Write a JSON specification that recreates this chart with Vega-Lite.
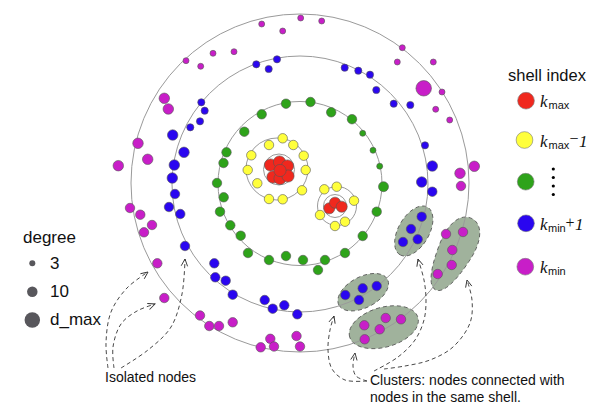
{
  "$schema": "https://vega.github.io/schema/vega-lite/v6.json",
  "width": 592,
  "height": 404,
  "padding": 0,
  "autosize": {"type": "none"},
  "background": "white",
  "config": {"view": {"stroke": null}},
  "datasets": {
    "clusters": [
      {"x": 413.8, "y": 231, "a": 27.5, "ang": 300, "form": "e"},
      {"x": 363.2, "y": 292.2, "a": 27.5, "ang": 332, "form": "e"},
      {"x": 453.7, "y": 254.2, "a": 40, "ang": 297, "form": "egg"},
      {"x": 383.8, "y": 327.2, "a": 35.5, "ang": 344, "form": "e"}
    ],
    "rings": [
      {"x": 300, "y": 183, "r": 169},
      {"x": 300, "y": 184, "r": 128},
      {"x": 300, "y": 183.5, "r": 82},
      {"x": 277, "y": 169, "r": 31},
      {"x": 279, "y": 169.5, "r": 15.5},
      {"x": 337, "y": 206, "r": 19.5},
      {"x": 335, "y": 206, "r": 11.5}
    ],
    "arrows": [
      {"id": "A", "o": 1, "x": 108, "y": 368}, {"id": "A", "o": 2, "x": 106, "y": 343}, {"id": "A", "o": 3, "x": 111, "y": 312}, {"id": "A", "o": 4, "x": 127, "y": 288}, {"id": "A", "o": 5, "x": 148, "y": 272},
      {"id": "B", "o": 1, "x": 114, "y": 368}, {"id": "B", "o": 2, "x": 113, "y": 347}, {"id": "B", "o": 3, "x": 121, "y": 324}, {"id": "B", "o": 4, "x": 137, "y": 311}, {"id": "B", "o": 5, "x": 155, "y": 304},
      {"id": "C", "o": 1, "x": 121, "y": 368}, {"id": "C", "o": 2, "x": 148, "y": 350}, {"id": "C", "o": 3, "x": 171, "y": 327}, {"id": "C", "o": 4, "x": 182, "y": 294}, {"id": "C", "o": 5, "x": 185, "y": 259},
      {"id": "D", "o": 1, "x": 367, "y": 381}, {"id": "D", "o": 2, "x": 345, "y": 380}, {"id": "D", "o": 3, "x": 332, "y": 369}, {"id": "D", "o": 4, "x": 328, "y": 350}, {"id": "D", "o": 5, "x": 330, "y": 330}, {"id": "D", "o": 6, "x": 334, "y": 316},
      {"id": "E", "o": 1, "x": 367, "y": 381}, {"id": "E", "o": 2, "x": 356, "y": 376}, {"id": "E", "o": 3, "x": 353, "y": 366}, {"id": "E", "o": 4, "x": 355, "y": 353},
      {"id": "F", "o": 1, "x": 374, "y": 371}, {"id": "F", "o": 2, "x": 398, "y": 357}, {"id": "F", "o": 3, "x": 415, "y": 340}, {"id": "F", "o": 4, "x": 424, "y": 320}, {"id": "F", "o": 5, "x": 426, "y": 300}, {"id": "F", "o": 6, "x": 424, "y": 280}, {"id": "F", "o": 7, "x": 418, "y": 259},
      {"id": "G", "o": 1, "x": 384, "y": 369}, {"id": "G", "o": 2, "x": 405, "y": 366}, {"id": "G", "o": 3, "x": 430, "y": 360}, {"id": "G", "o": 4, "x": 453, "y": 347}, {"id": "G", "o": 5, "x": 470, "y": 323}, {"id": "G", "o": 6, "x": 472, "y": 300}, {"id": "G", "o": 7, "x": 467, "y": 280}
    ],
    "heads": [
      {"x": 148, "y": 272, "ang": 53},
      {"x": 155, "y": 304, "ang": 69},
      {"x": 185, "y": 259, "ang": 5},
      {"x": 334, "y": 316, "ang": 16},
      {"x": 355, "y": 353, "ang": 9},
      {"x": 418, "y": 259, "ang": 344},
      {"x": 467, "y": 280, "ang": 346}
    ],
    "nodes": [
      {"x": 261.7, "y": 24, "s": "kmin", "d": 3}, {"x": 282.7, "y": 31, "s": "kmin", "d": 3}, {"x": 186, "y": 60.7, "s": "kmin", "d": 3}, {"x": 213, "y": 53.3, "s": "kmin", "d": 3}, {"x": 234, "y": 51.7, "s": "kmin", "d": 3}, {"x": 200.7, "y": 66.3, "s": "kmin", "d": 3}, {"x": 300.7, "y": 18, "s": "kmin", "d": 3}, {"x": 321.7, "y": 21, "s": "kmin", "d": 3}, {"x": 402.3, "y": 47.7, "s": "kmin", "d": 3}, {"x": 397.3, "y": 62, "s": "kmin", "d": 3}, {"x": 433.3, "y": 62, "s": "kmin", "d": 3}, {"x": 442, "y": 92, "s": "kmin", "d": 3}, {"x": 435.7, "y": 109.3, "s": "kmin", "d": 3}, {"x": 449.7, "y": 120, "s": "kmin", "d": 3},
      {"x": 423.7, "y": 88.3, "s": "kmin", "d": 30},
      {"x": 164.3, "y": 98.3, "s": "kmin", "d": 10}, {"x": 168.3, "y": 109, "s": "kmin", "d": 10}, {"x": 138, "y": 143.3, "s": "kmin", "d": 10}, {"x": 147.7, "y": 159.3, "s": "kmin", "d": 10}, {"x": 118.3, "y": 165.7, "s": "kmin", "d": 10}, {"x": 460, "y": 173.3, "s": "kmin", "d": 10}, {"x": 474.3, "y": 166.3, "s": "kmin", "d": 10},
      {"x": 461, "y": 186, "s": "kmin", "d": 8}, {"x": 130, "y": 208, "s": "kmin", "d": 8}, {"x": 140.3, "y": 214.7, "s": "kmin", "d": 8}, {"x": 152, "y": 225, "s": "kmin", "d": 8}, {"x": 144, "y": 232.3, "s": "kmin", "d": 8}, {"x": 157.3, "y": 263.3, "s": "kmin", "d": 8}, {"x": 164.3, "y": 298, "s": "kmin", "d": 8}, {"x": 200, "y": 315.5, "s": "kmin", "d": 8}, {"x": 209.3, "y": 326, "s": "kmin", "d": 8}, {"x": 219, "y": 326, "s": "kmin", "d": 8}, {"x": 232.7, "y": 322.3, "s": "kmin", "d": 8}, {"x": 260.7, "y": 347.3, "s": "kmin", "d": 8}, {"x": 270.3, "y": 338.8, "s": "kmin", "d": 8}, {"x": 274, "y": 346.5, "s": "kmin", "d": 8}, {"x": 296.5, "y": 336, "s": "kmin", "d": 8}, {"x": 300, "y": 346.5, "s": "kmin", "d": 8},
      {"x": 364.3, "y": 325.3, "s": "kmin", "d": 8}, {"x": 385.7, "y": 318, "s": "kmin", "d": 8}, {"x": 401, "y": 319.3, "s": "kmin", "d": 8}, {"x": 379.7, "y": 329.3, "s": "kmin", "d": 8}, {"x": 364.7, "y": 339.3, "s": "kmin", "d": 8},
      {"x": 446, "y": 234, "s": "kmin", "d": 8}, {"x": 463, "y": 232, "s": "kmin", "d": 8}, {"x": 452.3, "y": 250, "s": "kmin", "d": 8}, {"x": 451.7, "y": 265, "s": "kmin", "d": 8}, {"x": 437.7, "y": 274, "s": "kmin", "d": 8},
      {"x": 256.3, "y": 64.3, "s": "kmin+1", "d": 5}, {"x": 277, "y": 59.3, "s": "kmin+1", "d": 5}, {"x": 268.7, "y": 69, "s": "kmin+1", "d": 5}, {"x": 344.7, "y": 67.7, "s": "kmin+1", "d": 5}, {"x": 358.3, "y": 70.7, "s": "kmin+1", "d": 5}, {"x": 370, "y": 74.7, "s": "kmin+1", "d": 5}, {"x": 376.3, "y": 90, "s": "kmin+1", "d": 5}, {"x": 393.7, "y": 103.7, "s": "kmin+1", "d": 5}, {"x": 410.3, "y": 105, "s": "kmin+1", "d": 5}, {"x": 201.3, "y": 102.3, "s": "kmin+1", "d": 5}, {"x": 204.7, "y": 110.7, "s": "kmin+1", "d": 5}, {"x": 200, "y": 121.3, "s": "kmin+1", "d": 5}, {"x": 190.3, "y": 127.3, "s": "kmin+1", "d": 5}, {"x": 425, "y": 145.3, "s": "kmin+1", "d": 5},
      {"x": 172.7, "y": 135, "s": "kmin+1", "d": 10}, {"x": 184, "y": 152.3, "s": "kmin+1", "d": 10}, {"x": 174.3, "y": 165, "s": "kmin+1", "d": 10}, {"x": 172.3, "y": 178, "s": "kmin+1", "d": 10}, {"x": 432.3, "y": 166, "s": "kmin+1", "d": 10}, {"x": 421.7, "y": 182, "s": "kmin+1", "d": 10},
      {"x": 432.3, "y": 191.7, "s": "kmin+1", "d": 8}, {"x": 175, "y": 194, "s": "kmin+1", "d": 8}, {"x": 169, "y": 207, "s": "kmin+1", "d": 8}, {"x": 180.3, "y": 214, "s": "kmin+1", "d": 8}, {"x": 185, "y": 246, "s": "kmin+1", "d": 8}, {"x": 214.3, "y": 263.3, "s": "kmin+1", "d": 8}, {"x": 215.3, "y": 277.3, "s": "kmin+1", "d": 8}, {"x": 225.7, "y": 280.7, "s": "kmin+1", "d": 8}, {"x": 232.7, "y": 294.7, "s": "kmin+1", "d": 8}, {"x": 264.7, "y": 300, "s": "kmin+1", "d": 8}, {"x": 272.7, "y": 308.7, "s": "kmin+1", "d": 8}, {"x": 284.3, "y": 305.3, "s": "kmin+1", "d": 8}, {"x": 297.3, "y": 314.3, "s": "kmin+1", "d": 8},
      {"x": 421.7, "y": 216.7, "s": "kmin+1", "d": 8}, {"x": 411, "y": 229, "s": "kmin+1", "d": 8}, {"x": 417.7, "y": 239.3, "s": "kmin+1", "d": 8}, {"x": 403, "y": 242, "s": "kmin+1", "d": 8},
      {"x": 376.7, "y": 286, "s": "kmin+1", "d": 8}, {"x": 362.7, "y": 288.3, "s": "kmin+1", "d": 8}, {"x": 345.3, "y": 295, "s": "kmin+1", "d": 8}, {"x": 359, "y": 300, "s": "kmin+1", "d": 8},
      {"x": 286, "y": 103.7, "s": "mid", "d": 8}, {"x": 261.7, "y": 114.3, "s": "mid", "d": 8}, {"x": 244.3, "y": 131.7, "s": "mid", "d": 8}, {"x": 226.5, "y": 152.3, "s": "mid", "d": 8}, {"x": 223.5, "y": 163, "s": "mid", "d": 8}, {"x": 217, "y": 183, "s": "mid", "d": 8}, {"x": 310.5, "y": 102, "s": "mid", "d": 8}, {"x": 331.2, "y": 112.3, "s": "mid", "d": 8}, {"x": 352, "y": 119.2, "s": "mid", "d": 8}, {"x": 383.5, "y": 186.7, "s": "mid", "d": 9}, {"x": 223.7, "y": 197.3, "s": "mid", "d": 8}, {"x": 220, "y": 211.7, "s": "mid", "d": 8}, {"x": 230.3, "y": 225.3, "s": "mid", "d": 8}, {"x": 240.7, "y": 235.7, "s": "mid", "d": 8}, {"x": 248, "y": 253, "s": "mid", "d": 8}, {"x": 269, "y": 260, "s": "mid", "d": 8}, {"x": 286, "y": 256, "s": "mid", "d": 8}, {"x": 303, "y": 260, "s": "mid", "d": 8}, {"x": 318, "y": 270, "s": "mid", "d": 8}, {"x": 325, "y": 260, "s": "mid", "d": 8}, {"x": 345, "y": 253, "s": "mid", "d": 8}, {"x": 362.7, "y": 236, "s": "mid", "d": 8}, {"x": 376.7, "y": 211.7, "s": "mid", "d": 8},
      {"x": 362.7, "y": 133.3, "s": "mid", "d": 3}, {"x": 373, "y": 150.3, "s": "mid", "d": 3}, {"x": 379.7, "y": 166.2, "s": "mid", "d": 3},
      {"x": 282.7, "y": 138.3, "s": "kmax-1", "d": 8}, {"x": 269, "y": 145, "s": "kmax-1", "d": 8}, {"x": 293.3, "y": 145, "s": "kmax-1", "d": 8}, {"x": 251.3, "y": 155.3, "s": "kmax-1", "d": 8}, {"x": 303.7, "y": 155.7, "s": "kmax-1", "d": 8}, {"x": 247.7, "y": 170, "s": "kmax-1", "d": 8}, {"x": 305.7, "y": 170, "s": "kmax-1", "d": 8}, {"x": 257.3, "y": 183.3, "s": "kmax-1", "d": 8}, {"x": 302, "y": 190.3, "s": "kmax-1", "d": 8}, {"x": 269, "y": 199, "s": "kmax-1", "d": 8}, {"x": 282.7, "y": 199.3, "s": "kmax-1", "d": 8},
      {"x": 324.3, "y": 189.3, "s": "kmax-1", "d": 8}, {"x": 336.7, "y": 186.7, "s": "kmax-1", "d": 8}, {"x": 354, "y": 200.7, "s": "kmax-1", "d": 8}, {"x": 320, "y": 215, "s": "kmax-1", "d": 8}, {"x": 335, "y": 226, "s": "kmax-1", "d": 8}, {"x": 345, "y": 221.7, "s": "kmax-1", "d": 8},
      {"x": 270.5, "y": 165, "s": "kmax", "d": 13}, {"x": 279.5, "y": 162, "s": "kmax", "d": 13}, {"x": 287.5, "y": 166, "s": "kmax", "d": 13}, {"x": 273, "y": 177, "s": "kmax", "d": 13}, {"x": 280, "y": 178.5, "s": "kmax", "d": 13}, {"x": 288, "y": 176, "s": "kmax", "d": 13}, {"x": 280, "y": 170.5, "s": "kmax", "d": 13},
      {"x": 329.3, "y": 208.3, "s": "kmax", "d": 11}, {"x": 335, "y": 202.7, "s": "kmax", "d": 11}, {"x": 341.7, "y": 206.7, "s": "kmax", "d": 11}
    ],
    "shellLegend": [
      {"x": 526, "y": 100.7, "s": "kmax"},
      {"x": 524.5, "y": 140, "s": "kmax-1"},
      {"x": 525.7, "y": 181.7, "s": "mid"},
      {"x": 526, "y": 223.3, "s": "kmin+1"},
      {"x": 525.3, "y": 266.7, "s": "kmin"}
    ],
    "vdots": [
      {"x": 553.3, "y": 169}, {"x": 553.3, "y": 177.5}, {"x": 553.3, "y": 186}, {"x": 553.3, "y": 194.5}
    ],
    "degreeLegend": [
      {"x": 32.3, "y": 263.3, "d": 3},
      {"x": 32.3, "y": 291.7, "d": 10},
      {"x": 32.3, "y": 320, "d": 30}
    ]
  },
  "encoding": {
    "x": {"field": "x", "type": "quantitative", "scale": {"domain": [0, 592], "nice": false, "zero": false}, "axis": null},
    "y": {"field": "y", "type": "quantitative", "scale": {"domain": [0, 404], "nice": false, "zero": false, "reverse": true}, "axis": null}
  },
  "layer": [
    {
      "data": {"name": "clusters"},
      "mark": {"type": "point", "filled": true, "fill": "#a0b29c", "fillOpacity": 1, "stroke": "#555555", "strokeWidth": 0.8, "strokeDash": [4, 3], "opacity": 1},
      "encoding": {
        "size": {"field": "a", "type": "quantitative", "scale": {"type": "pow", "exponent": 2, "domain": [0, 50], "range": [0, 10000]}, "legend": null},
        "shape": {"field": "form", "type": "nominal", "scale": {"domain": ["e", "egg"], "range": ["M-1,0C-1,-0.3093,-0.5523,-0.56,0,-0.56C0.5523,-0.56,1,-0.3093,1,0C1,0.3093,0.5523,0.56,0,0.56C-0.5523,0.56,-1,0.3093,-1,0Z", "M-1,0C-1,-0.22,-0.55,-0.36,0,-0.42C0.6,-0.5,1,-0.32,1,0C1,0.32,0.6,0.5,0,0.42C-0.55,0.36,-1,0.22,-1,0Z"]}, "legend": null},
        "angle": {"field": "ang", "type": "quantitative", "scale": {"domain": [0, 360], "range": [0, 360]}}
      }
    },
    {
      "data": {"name": "rings"},
      "mark": {"type": "point", "shape": "circle", "filled": false, "stroke": "#9a9a9a", "strokeWidth": 1, "opacity": 1},
      "encoding": {
        "size": {"field": "r", "type": "quantitative", "scale": {"type": "pow", "exponent": 2, "domain": [0, 200], "range": [0, 160000]}, "legend": null}
      }
    },
    {
      "data": {"name": "arrows"},
      "mark": {"type": "line", "interpolate": "catmull-rom", "stroke": "#333333", "strokeWidth": 0.9, "strokeDash": [4, 3]},
      "encoding": {
        "detail": {"field": "id", "type": "nominal"},
        "order": {"field": "o", "type": "quantitative"}
      }
    },
    {
      "data": {"name": "heads"},
      "mark": {"type": "point", "shape": "M-0.45,1L0,0L0.45,1", "filled": false, "stroke": "#333333", "strokeWidth": 0.9, "size": 200, "opacity": 1},
      "encoding": {
        "angle": {"field": "ang", "type": "quantitative", "scale": {"domain": [0, 360], "range": [0, 360]}}
      }
    },
    {
      "data": {"name": "nodes"},
      "mark": {"type": "point", "shape": "circle", "filled": true, "stroke": "#555555", "strokeWidth": 0.6, "opacity": 1},
      "encoding": {
        "color": {"field": "s", "type": "nominal", "scale": {"domain": ["kmax", "kmax-1", "mid", "kmin+1", "kmin"], "range": ["#f0281e", "#ffff3c", "#2ea31a", "#2a06f0", "#c81ec8"]}, "legend": null},
        "size": {"field": "d", "type": "quantitative", "scale": {"domain": [3, 5, 8, 10, 13, 30], "range": [36, 52, 90, 110, 150, 240], "zero": false, "nice": false}, "legend": null}
      }
    },
    {
      "data": {"name": "shellLegend"},
      "mark": {"type": "point", "shape": "circle", "filled": true, "stroke": "#777777", "strokeWidth": 0.6, "size": 280, "opacity": 1},
      "encoding": {
        "color": {"field": "s", "type": "nominal", "scale": {"domain": ["kmax", "kmax-1", "mid", "kmin+1", "kmin"], "range": ["#f0281e", "#ffff3c", "#2ea31a", "#2a06f0", "#c81ec8"]}, "legend": null}
      }
    },
    {
      "data": {"name": "vdots"},
      "mark": {"type": "point", "shape": "circle", "filled": true, "color": "#000000", "size": 10, "opacity": 1}
    },
    {
      "data": {"name": "degreeLegend"},
      "mark": {"type": "point", "shape": "circle", "filled": true, "color": "#58575c", "opacity": 1},
      "encoding": {
        "size": {"field": "d", "type": "quantitative", "scale": {"domain": [3, 5, 8, 10, 13, 30], "range": [36, 52, 90, 110, 150, 240], "zero": false, "nice": false}, "legend": null}
      }
    },
    {
      "data": {"values": [
        {"x": 508, "y": 80.5, "t": "shell index"}
      ]},
      "mark": {"type": "text", "font": "Liberation Sans", "fontSize": 16.5, "align": "left", "baseline": "alphabetic", "color": "#111111"},
      "encoding": {"text": {"field": "t"}}
    },
    {
      "data": {"values": [
        {"x": 23, "y": 242.5, "t": "degree"},
        {"x": 50, "y": 268.5, "t": "3"},
        {"x": 50, "y": 296.5, "t": "10"},
        {"x": 50, "y": 324.5, "t": "d_max"}
      ]},
      "mark": {"type": "text", "font": "Liberation Sans", "fontSize": 17, "align": "left", "baseline": "alphabetic", "color": "#111111"},
      "encoding": {"text": {"field": "t"}}
    },
    {
      "data": {"values": [
        {"x": 105, "y": 382, "t": "Isolated nodes"},
        {"x": 370, "y": 385, "t": "Clusters: nodes connected with"},
        {"x": 370, "y": 401.5, "t": "nodes in the same shell."}
      ]},
      "mark": {"type": "text", "font": "Liberation Sans", "fontSize": 14, "align": "left", "baseline": "alphabetic", "color": "#111111"},
      "encoding": {"text": {"field": "t"}}
    },
    {
      "data": {"values": [
        {"x": 540, "y": 107, "t": "k"},
        {"x": 540, "y": 146.5, "t": "k"},
        {"x": 579, "y": 146.5, "t": "1"},
        {"x": 540, "y": 229.5, "t": "k"},
        {"x": 575, "y": 229.5, "t": "1"},
        {"x": 540, "y": 273, "t": "k"}
      ]},
      "mark": {"type": "text", "font": "Liberation Serif", "fontStyle": "italic", "fontSize": 17, "align": "left", "baseline": "alphabetic", "color": "#111111"},
      "encoding": {"text": {"field": "t"}}
    },
    {
      "data": {"values": [
        {"x": 548.5, "y": 109, "t": "max"},
        {"x": 548.5, "y": 148.5, "t": "max"},
        {"x": 548, "y": 231.5, "t": "min"},
        {"x": 548, "y": 275, "t": "min"}
      ]},
      "mark": {"type": "text", "font": "Liberation Sans", "fontSize": 11, "align": "left", "baseline": "alphabetic", "color": "#111111"},
      "encoding": {"text": {"field": "t"}}
    },
    {
      "data": {"values": [
        {"x": 569.5, "y": 138.5, "t": "−"},
        {"x": 565.5, "y": 222.5, "t": "+"}
      ]},
      "mark": {"type": "text", "font": "Liberation Serif", "fontSize": 16, "align": "left", "baseline": "middle", "color": "#111111"},
      "encoding": {"text": {"field": "t"}}
    }
  ],
  "resolve": {"scale": {"size": "independent", "angle": "independent", "shape": "independent", "color": "independent"}}
}
